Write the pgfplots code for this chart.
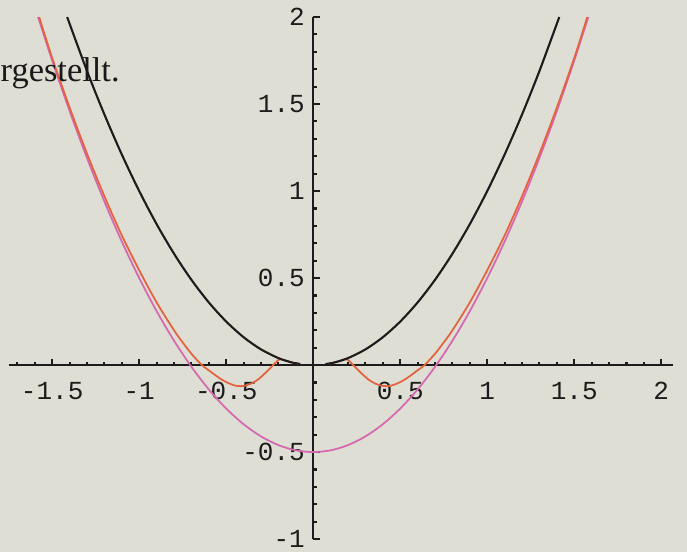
\documentclass[border=0pt]{standalone}
\usepackage{pgfplots}
\pgfplotsset{compat=1.18}
\usepackage{fontspec}
\setmainfont{Liberation Serif}
\newfontfamily\monof{Liberation Mono}
\usetikzlibrary{backgrounds}
\definecolor{paper}{RGB}{222,222,212}
\definecolor{curvered}{RGB}{228,98,62}
\definecolor{curvepink}{RGB}{214,104,176}
\definecolor{axisblack}{RGB}{28,28,28}
\begin{document}
\begin{tikzpicture}
\begin{axis}[
  x=1.74cm, y=1.74cm,
  axis lines=middle,
  axis line style={-, line width=0.6pt, color=axisblack},
  xmin=-1.75, xmax=2.07, ymin=-1, ymax=2,
  xtick={-1.5,-1,-0.5,0.5,1,1.5,2},
  ytick={-1,-0.5,0.5,1,1.5,2},
  minor xtick={-1.7,-1.6,-1.4,-1.3,-1.2,-1.1,-0.9,-0.8,-0.7,-0.6,-0.4,-0.3,-0.2,-0.1,0.1,0.2,0.3,0.4,0.6,0.7,0.8,0.9,1.1,1.2,1.3,1.4,1.6,1.7,1.8,1.9},
  minor ytick={-0.9,-0.8,-0.7,-0.6,-0.4,-0.3,-0.2,-0.1,0.1,0.2,0.3,0.4,0.6,0.7,0.8,0.9,1.1,1.2,1.3,1.4,1.6,1.7,1.8,1.9},
  tick align=inside,
  major tick length=0.065cm, minor tick length=0.035cm,
  tick style={line width=0.6pt, color=axisblack},
  ticklabel style={font=\monof\fontsize{7.4}{8}\selectfont, text=axisblack},
  xticklabel style={yshift=-0.05cm},
  yticklabel style={xshift=0.04cm},
  /pgf/number format/assume math mode=true,
  clip=false,
]
\coordinate (sw) at (axis cs:-1.80,-1.075);
\coordinate (ne) at (axis cs:2.148,2.098);

% pink: lower parabola
\addplot[color=curvepink, line width=0.5pt, smooth] coordinates {
(-1.581,2.0) (-1.5,1.75) (-1.4,1.46) (-1.3,1.19) (-1.2,0.94) (-1.1,0.71)
(-1.0,0.5) (-0.9,0.31) (-0.8,0.14) (-0.7,-0.01) (-0.6,-0.14) (-0.5,-0.25)
(-0.4,-0.34) (-0.3,-0.41) (-0.2,-0.46) (-0.1,-0.49) (0,-0.5)
(0.1,-0.49) (0.2,-0.46) (0.3,-0.41) (0.4,-0.34) (0.5,-0.25) (0.6,-0.14)
(0.7,-0.01) (0.8,0.14) (0.9,0.31) (1.0,0.5) (1.1,0.71) (1.2,0.94)
(1.3,1.19) (1.4,1.46) (1.5,1.75) (1.581,2.0)
};

% red: approximation, left branch
\addplot[color=curvered, line width=0.5pt, smooth] coordinates {
(-1.575,2.0) (-1.5,1.765) (-1.4,1.48) (-1.3,1.215) (-1.2,0.97) (-1.1,0.745)
(-1.0,0.545) (-0.9,0.36) (-0.8,0.2) (-0.75,0.13) (-0.7,0.065) (-0.64,0.0)
(-0.6,-0.03) (-0.56,-0.06) (-0.52,-0.087) (-0.48,-0.107) (-0.44,-0.12)
(-0.40,-0.12) (-0.36,-0.108) (-0.32,-0.085) (-0.28,-0.05) (-0.24,-0.01)
(-0.21,0.02) (-0.19,0.034) (-0.16,0.026) (-0.13,0.017) (-0.1,0.01) (-0.075,0.006)
};
% red: right branch
\addplot[color=curvered, line width=0.5pt, smooth] coordinates {
(0.075,0.006) (0.1,0.01) (0.13,0.017) (0.16,0.026) (0.19,0.034) (0.21,0.02)
(0.24,-0.01) (0.28,-0.05) (0.32,-0.085) (0.36,-0.108) (0.40,-0.12) (0.44,-0.12)
(0.48,-0.107) (0.52,-0.087) (0.56,-0.06) (0.60,-0.03) (0.64,0.0) (0.70,0.065)
(0.75,0.13) (0.8,0.2) (0.9,0.36) (1.0,0.545) (1.1,0.745) (1.2,0.97)
(1.3,1.215) (1.4,1.48) (1.5,1.765) (1.575,2.0)
};

% black: x^2, left and right of the gap at 0
\addplot[color=axisblack, line width=0.6pt, smooth] coordinates {
(-1.414,2.0) (-1.3,1.69) (-1.2,1.44) (-1.1,1.21) (-1.0,1.0) (-0.9,0.81)
(-0.8,0.64) (-0.7,0.49) (-0.6,0.36) (-0.5,0.25) (-0.4,0.16) (-0.3,0.09)
(-0.2,0.04) (-0.13,0.017) (-0.1,0.01) (-0.075,0.006)
};
\addplot[color=axisblack, line width=0.6pt, smooth] coordinates {
(0.07,0.005) (0.1,0.01) (0.13,0.017) (0.2,0.04) (0.3,0.09) (0.4,0.16)
(0.5,0.25) (0.6,0.36) (0.7,0.49) (0.8,0.64) (0.9,0.81) (1.0,1.0)
(1.1,1.21) (1.2,1.44) (1.3,1.69) (1.414,2.0)
};

\node[anchor=base west, inner sep=0pt, text=black!90,
      font=\fontsize{9.8}{11}\selectfont] at (axis cs:-1.80,1.63) {rgestellt.};
\end{axis}
\begin{scope}[on background layer]
\fill[paper] (sw) rectangle (ne);
\end{scope}
\pgfresetboundingbox
\path (sw) rectangle (ne);
\end{tikzpicture}
\end{document}
